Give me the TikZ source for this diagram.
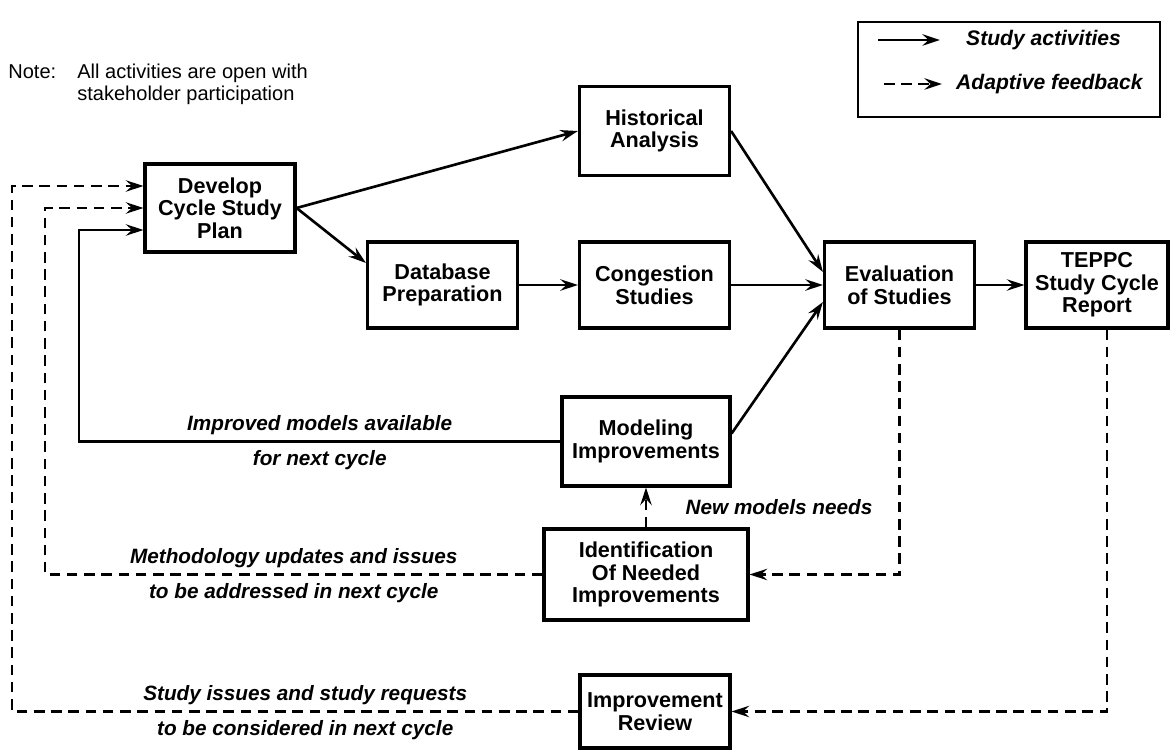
\documentclass[tikz,border=0pt]{standalone}
\usepackage{fontspec}
\setmainfont{Liberation Sans}
\usetikzlibrary{arrows.meta,calc}

\begin{document}
\begin{tikzpicture}[
    box/.style={draw, line width=1.8pt, align=center, inner sep=1pt, font=\bfseries\fontsize{12.3}{12.9}\selectfont},
    flow/.style={line width=1.5pt, -{Stealth[length=10pt,width=6.5pt,inset=3.5pt]}},
    feedback/.style={flow, dash pattern=on 6pt off 3.8pt},
    lbl/.style={font=\bfseries\itshape\fontsize{11.8}{13}\selectfont},
    legtext/.style={font=\bfseries\itshape\fontsize{12}{13}\selectfont, anchor=west}
  ]
		\useasboundingbox (0,0) rectangle (23.44,-15.02);

		\node[anchor=west, align=left, inner sep=0pt, font=\fontsize{11.4}{12.6}\selectfont] (note) at (0.16,-1.68)
			{\makebox[1.38cm][l]{Note:}All activities are open with\\ \hspace*{1.38cm}stakeholder participation};

		\node[draw, line width=1pt, minimum width=6.04cm, minimum height=1.9cm] (legend) at (20.18,-1.39) {};
		\coordinate (sa1) at (17.56,-0.8);
		\coordinate (sa2) at (18.8,-0.8);
		\coordinate (af1) at (17.68,-1.68);
		\coordinate (af2) at (18.84,-1.68);
		\draw[flow] (sa1) -- (sa2);
		\draw[feedback] (af1) -- (af2);
		\node[legtext] (satext) at (19.2,-0.8) {Study activities};
		\node[legtext] (aftext) at (19.0,-1.68) {Adaptive feedback};

		\node[box, minimum width=3cm, minimum height=1.76cm] (dev) at (4.4,-4.16) {Develop\\Cycle Study\\Plan};
		\node[box, minimum width=3cm, minimum height=1.78cm] (hist) at (13.09,-2.62) {Historical\\Analysis};
		\node[box, minimum width=3cm, minimum height=1.72cm] (db) at (8.85,-5.7) {Database\\Preparation};
		\node[box, minimum width=3cm, minimum height=1.72cm] (cong) at (13.09,-5.7) {Congestion\\Studies};
		\node[box, minimum width=3cm, minimum height=1.72cm] (eval) at (17.99,-5.7) {Evaluation\\of Studies};
		\node[box, minimum width=2.84cm, minimum height=1.72cm] (teppc) at (21.94,-5.7) {TEPPC\\Study Cycle\\Report};
		\node[box, minimum width=3.36cm, minimum height=1.78cm] (mod) at (12.92,-8.83) {Modeling\\Improvements};
		\node[box, minimum width=4.08cm, minimum height=1.82cm] (ident) at (12.92,-11.49) {Identification\\Of Needed\\Improvements};
		\node[box, minimum width=3cm, minimum height=1.46cm] (rev) at (13.1,-14.23) {Improvement\\Review};

		\coordinate (railA) at (0.24,0);
		\coordinate (railB) at (0.9,0);
		\coordinate (railC) at (1.58,0);

		\draw[flow] (dev.east) -- (hist.west);
		\draw[flow] (dev.east) -- ([yshift=0.44cm]db.west);
		\draw[flow] (db.east) -- (cong.west);
		\draw[flow] (hist.east) -- ([yshift=0.26cm]eval.west);
		\draw[flow] (cong.east) -- (eval.west);
		\draw[flow] ([yshift=0.16cm]mod.east) -- ([yshift=-0.34cm]eval.west);
		\draw[flow] (eval.east) -- (teppc.west);

		\draw[flow] (mod.west) -- node[lbl, above] {Improved models available} node[lbl, below=1pt] {for next cycle} (mod.west -| railC) |- ([yshift=-0.44cm]dev.west);
		\draw[feedback] (eval.south) |- (ident.east);
		\draw[feedback] (ident.north) -- node[lbl, right=0.65cm] {New models needs} (mod.south);
		\draw[feedback] (ident.west) -- node[lbl, above] {Methodology updates and issues} node[lbl, below=1pt] {to be addressed in next cycle} (ident.west -| railB) |- (dev.west);
		\draw[feedback] ([xshift=0.2cm]teppc.south) |- (rev.east);
		\draw[feedback] (rev.west) -- node[lbl, above, xshift=0.2cm] {Study issues and study requests} node[lbl, below=1pt, xshift=0.2cm] {to be considered in next cycle} (rev.west -| railA) |- ([yshift=0.44cm]dev.west);
	\end{tikzpicture}
\end{document}
